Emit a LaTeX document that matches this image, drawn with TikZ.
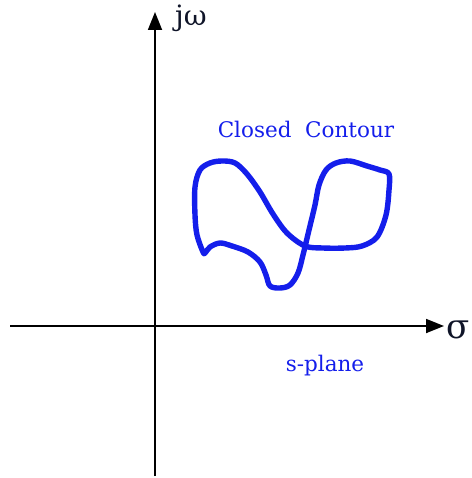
\documentclass[tikz,border=0pt]{standalone}
\usepackage{fontspec}
\setmainfont{DejaVu Serif}
\usetikzlibrary{arrows.meta}
\definecolor{cblue}{RGB}{20,30,235}
\definecolor{ink}{RGB}{15,20,40}
\begin{document}
\begin{tikzpicture}[x=1pt,y=-1pt,
  axis/.style={line width=1.8pt,-{Triangle[length=18pt,width=14pt]}},
  contour/.style={cblue,line width=5.4pt,line join=round},
  lbl/.style={text=cblue,inner sep=0pt}]
\useasboundingbox (0,0) rectangle (471,478);
\coordinate (ybot) at (155,476);
\coordinate (ytop) at (155,12);
\coordinate (xl) at (10,326);
\coordinate (xr) at (444,326);
\draw[axis] (ybot) -- (ytop);
\draw[axis] (xl) -- (xr);
\node[inner sep=0pt,anchor=west,font=\fontsize{28}{30}\selectfont,text=ink] (jw) at (175,18) {jω};
\node[inner sep=0pt,anchor=west,font=\fontsize{34}{36}\selectfont,text=ink] (sig) at (446,330) {σ};
\node[lbl,font=\fontsize{21.5}{24}\selectfont] (cc) at (306,129) {Closed\ \ Contour};
\node[lbl,font=\fontsize{21.5}{24}\selectfont] (sp) at (325,366) {s-plane};
\draw[contour] plot[smooth cycle,tension=0.55] coordinates {
 (203,252) (197,235) (195,215) (195,187) (200,170) (210,163) (222,161) (235,163)
 (247,174) (260,192) (273,214) (287,233) (305,246) (323,248) (345,248) (362,246)
 (377,237) (386,215) (389,190) (389,174) (380,170) (367,166) (350,161) (336,163)
 (326,170) (319,185) (315,205) (309,230) (303,255) (298,273) (290,285) (280,288)
 (270,286) (266,275) (260,262) (248,252) (232,246) (220,243) (210,247) (205,253)
};
\end{tikzpicture}
\end{document}
